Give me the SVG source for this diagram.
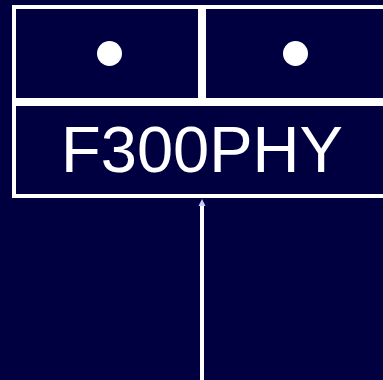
<svg xmlns="http://www.w3.org/2000/svg" width="383" height="380" viewBox="0 0 383 380">
<style>
.cell{fill:#000040;stroke:#ffffff;stroke-width:4}
.dot{fill:#ffffff}
.lbl{font-family:"Liberation Sans",Arial,sans-serif;font-size:65px;fill:#ffffff;text-anchor:middle}
.conn{stroke:#ffffff;stroke-width:4;fill:none}
</style>
<rect x="0" y="0" width="383" height="380" fill="#000040"/>
<g id="connectors">
<line class="conn" x1="202" y1="380" x2="202" y2="204"/>
<polygon points="202,199 198.5,206 205.5,206" fill="#ccccff"/>
</g>
<g id="cell-left">
<rect class="cell" x="14" y="7" width="186" height="93"/>
<circle class="dot" cx="109.5" cy="53.5" r="12.5"/>
</g>
<g id="cell-right">
<rect class="cell" x="204" y="7" width="186" height="93"/>
<circle class="dot" cx="295.5" cy="53.5" r="12.5"/>
</g>
<g id="f300phy">
<rect class="cell" x="14" y="104" width="376" height="92"/>
<text class="lbl" x="202" y="172">F300PHY</text>
</g>
</svg>
